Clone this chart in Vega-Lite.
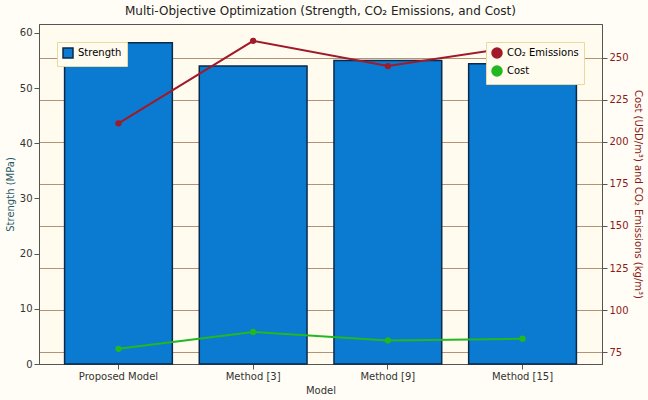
{
"$schema":"https://vega.github.io/schema/vega-lite/v6.json",
"width":648,"height":400,
"autosize":{"type":"fit","contains":"padding"},
"padding":{"left":5,"right":5,"top":5,"bottom":5},
"background":"#fffdf5",
"config":{"font":"DejaVu Sans","view":{"stroke":"#555","fill":"#fffbef"},"axis":{"labelFontSize":10,"titleFontSize":10,"titleFontWeight":"normal","labelColor":"#333","tickColor":"#555","domainColor":"#555"}},
"title":{"text":"Multi-Objective Optimization (Strength, CO₂ Emissions, and Cost)","fontSize":12,"fontWeight":"normal","color":"#222","offset":6},
"data":{"values":[
{"model":"Proposed Model","strength":58.2,"co2":211,"cost":77},
{"model":"Method [3]","strength":54.0,"co2":260,"cost":87},
{"model":"Method [9]","strength":55.0,"co2":245,"cost":82},
{"model":"Method [15]","strength":54.4,"co2":257,"cost":83}
]},
"encoding":{"x":{"field":"model","type":"nominal","sort":null,"title":"Model","scale":{"paddingInner":0.2,"paddingOuter":0.19},"axis":{"labelAngle":0,"titleColor":"#333"}}},
"layer":[
{"mark":{"type":"bar","stroke":"#0b2a4a","strokeWidth":1.5},
 "encoding":{"y":{"field":"strength","type":"quantitative","title":"Strength (MPa)","scale":{"domain":[0,61.6],"nice":false},"axis":{"values":[0,10,20,30,40,50,60],"grid":false,"titleColor":"#1f5a6e"}},
 "fill":{"datum":"Strength","type":"nominal","scale":{"range":["#0a7bd0"]},"legend":{"title":null,"orient":"top-left","fillColor":"#fffbef","strokeColor":"#e8d9a0","padding":5,"symbolType":"square","symbolStrokeColor":"#0b2a4a","labelFontSize":10}}}},
{"transform":[{"fold":["co2","cost"],"as":["series","val"]},{"calculate":"datum.series=='co2'?'CO₂ Emissions':'Cost'","as":"label"}],
 "mark":{"type":"line","point":{"filled":true,"size":40}},
 "encoding":{"y":{"field":"val","type":"quantitative","scale":{"domain":[68,270],"nice":false},"title":"Cost (USD/m³) and CO₂ Emissions (kg/m³)","axis":{"orient":"right","values":[75,100,125,150,175,200,225,250],"grid":true,"gridColor":"#a0785a","gridOpacity":0.8,"titleColor":"#8b1a1a","labelColor":"#8b1a1a"}},
  "color":{"field":"label","type":"nominal","scale":{"domain":["CO₂ Emissions","Cost"],"range":["#a01a2a","#22b822"]},"legend":{"title":null,"orient":"top-right","fillColor":"#fffbef","strokeColor":"#e8d9a0","padding":5,"symbolType":"circle","labelFontSize":10}}}}
],
"resolve":{"scale":{"y":"independent"},"legend":{"fill":"independent","color":"independent"}}
}
